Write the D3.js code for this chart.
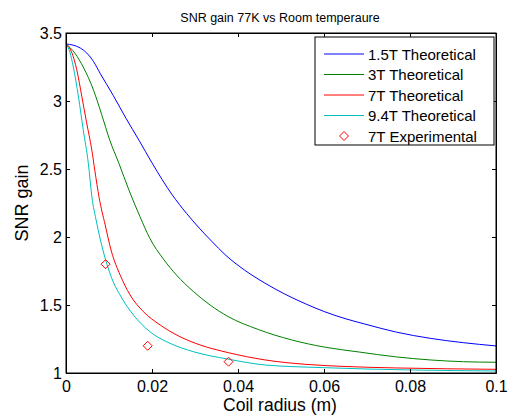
<!DOCTYPE html>
<html>
<head>
<meta charset="utf-8">
<script src="https://cdn.jsdelivr.net/npm/d3@7"></script>
<style>
  body { margin: 0; background: #fff; }
  text { font-family: Arial, "Liberation Sans", sans-serif; }
</style>
</head>
<body>
<script>
// values
var radius15 = [0, 0.0033, 0.0064, 0.008, 0.011, 0.014, 0.017, 0.020, 0.0247, 0.028, 0.031, 0.034, 0.037, 0.0416, 0.0463, 0.0509, 0.0556, 0.0602, 0.0649, 0.0695, 0.0769, 0.0847, 0.0924, 0.1]
var gain15 = [3.42, 3.39, 3.29, 3.20, 3.04, 2.87, 2.71, 2.545, 2.31, 2.175, 2.065, 1.965, 1.87, 1.755, 1.66, 1.58, 1.51, 1.45, 1.40, 1.36, 1.30, 1.255, 1.223, 1.199]

var radius3 = [0, 0.0021, 0.004, 0.0064, 0.0083, 0.0102, 0.0122, 0.0147, 0.0172, 0.0195, 0.0226, 0.0257, 0.0296, 0.0335, 0.0377, 0.0447, 0.0525, 0.0602, 0.068, 0.0769, 0.0847, 0.0924, 0.1]
var gain3 = [3.42, 3.35, 3.25, 3.08, 2.90, 2.71, 2.55, 2.34, 2.15, 1.99, 1.84, 1.72, 1.60, 1.50, 1.415, 1.32, 1.243, 1.19, 1.155, 1.118, 1.096, 1.083, 1.079]

var radius7 = [0, 0.0013, 0.0025, 0.0037, 0.0048, 0.006, 0.0067, 0.0077, 0.0091, 0.0106, 0.0126, 0.0149, 0.018, 0.0219, 0.0265, 0.0312, 0.0377, 0.0463, 0.0556, 0.0649, 0.0769, 0.0885, 0.1]
var gain7 = [3.42, 3.36, 3.23, 3.03, 2.84, 2.64, 2.49, 2.29, 2.09, 1.89, 1.72, 1.574, 1.451, 1.353, 1.267, 1.206, 1.15, 1.096, 1.064, 1.048, 1.037, 1.031, 1.027]

var radius94 = [0, 0.0009, 0.0017, 0.0029, 0.004, 0.0052, 0.006, 0.0071, 0.0087, 0.0106, 0.013, 0.0157, 0.0195, 0.0242, 0.0296, 0.0377, 0.0463, 0.0602, 0.0808, 0.1]
var gain94 = [3.42, 3.36, 3.25, 3.03, 2.79, 2.54, 2.30, 2.11, 1.89, 1.70, 1.55, 1.426, 1.304, 1.218, 1.157, 1.102, 1.059, 1.039, 1.022, 1.015]

var expRadius = [0.0092, 0.019, 0.0378]
var expGain = [1.80, 1.20, 1.083]

var seriesNames = ["1.5T Theoretical", "3T Theoretical", "7T Theoretical", "9.4T Theoretical"]
var seriesColors = ["#0000ff", "#008000", "#ff0000", "#00bfbf"]
var xTicks = [0, 0.02, 0.04, 0.06, 0.08, 0.1]
var yTicks = [1, 1.5, 2, 2.5, 3, 3.5]

var width = 508, height = 415
var axLeft = 66, axRight = 496, axTop = 33, axBottom = 373

var svg = d3.select("body").append("svg")
  .attr("width", width)
  .attr("height", height)

var x = d3.scaleLinear().domain([0, 0.1]).range([axLeft, axRight])
var y = d3.scaleLinear().domain([1, 3.5]).range([axBottom, axTop])

function zip(xs, ys) {
  return xs.map(function(v, i) { return [v, ys[i]] })
}
var series = [zip(radius15, gain15), zip(radius3, gain3), zip(radius7, gain7), zip(radius94, gain94)]

var line = d3.line()
  .x(function(d) { return x(d[0]) })
  .y(function(d) { return y(d[1]) })
  .curve(d3.curveMonotoneX)

var plot = svg.append("g")
plot.selectAll("path.curve")
  .data(series)
  .enter().append("path")
  .attr("class", "curve")
  .attr("d", line)
  .attr("fill", "none")
  .attr("stroke", function(d, i) { return seriesColors[i] })
  .attr("stroke-width", 1)

function diamond(r) {
  return "M0," + (-r) + "L" + r + ",0L0," + r + "L" + (-r) + ",0Z"
}

plot.selectAll("path.exp")
  .data(zip(expRadius, expGain))
  .enter().append("path")
  .attr("class", "exp")
  .attr("transform", function(d) { return "translate(" + x(d[0]) + "," + y(d[1]) + ")" })
  .attr("d", diamond(4.5))
  .attr("fill", "none")
  .attr("stroke", "#ff0000")
  .attr("stroke-width", 1)

// axes, ticks pointing inward like matlab
var fmt = function(d) { return d3.format("~g")(d) }
svg.append("g").attr("transform", "translate(0," + axBottom + ")")
  .call(d3.axisBottom(x).tickValues(xTicks).tickFormat(fmt).tickSize(-4).tickSizeOuter(0).tickPadding(8))
svg.append("g").attr("transform", "translate(0," + axTop + ")")
  .call(d3.axisTop(x).tickValues(xTicks).tickFormat("").tickSize(-4).tickSizeOuter(0))
svg.append("g").attr("transform", "translate(" + axLeft + ",0)")
  .call(d3.axisLeft(y).tickValues(yTicks).tickFormat(fmt).tickSize(-4).tickSizeOuter(0).tickPadding(4))
svg.append("g").attr("transform", "translate(" + axRight + ",0)")
  .call(d3.axisRight(y).tickValues(yTicks).tickFormat("").tickSize(-4).tickSizeOuter(0))

svg.selectAll(".domain, .tick line").attr("stroke", "#000")
svg.selectAll(".tick text").attr("fill", "#000").style("font-size", "16px").style("font-family", "Arial, 'Liberation Sans', sans-serif")

svg.append("rect")
  .attr("x", axLeft).attr("y", axTop)
  .attr("width", axRight - axLeft).attr("height", axBottom - axTop)
  .attr("fill", "none").attr("stroke", "#000").attr("stroke-width", 1)

svg.append("text")
  .attr("x", 280).attr("y", 22)
  .attr("text-anchor", "middle")
  .style("font-size", "12.5px")
  .text("SNR gain 77K vs Room temperaure")

svg.append("text")
  .attr("x", 280).attr("y", 411)
  .attr("text-anchor", "middle")
  .style("font-size", "17.5px")
  .text("Coil radius (m)")

svg.append("text")
  .attr("transform", "translate(28,203) rotate(-90)")
  .attr("text-anchor", "middle")
  .style("font-size", "18px")
  .text("SNR gain")

// legend
var legend = svg.append("g")
legend.append("rect")
  .attr("x", 315).attr("y", 37)
  .attr("width", 179).attr("height", 108)
  .attr("fill", "#fff").attr("stroke", "#000").attr("stroke-width", 1)

var legendNames = seriesNames.concat(["7T Experimental"])
legendNames.forEach(function(name, i) {
  var cy = 54 + i * 20.5
  if (i < seriesNames.length) {
    legend.append("line")
      .attr("x1", 324).attr("x2", 364)
      .attr("y1", cy).attr("y2", cy)
      .attr("stroke", seriesColors[i]).attr("stroke-width", 1)
  } else {
    legend.append("path")
      .attr("transform", "translate(344," + cy + ")")
      .attr("d", diamond(4.5))
      .attr("fill", "none").attr("stroke", "#ff0000")
  }
  legend.append("text")
    .attr("x", 368).attr("y", cy + 5.5)
    .style("font-size", "15px")
    .text(name)
})
</script>
</body>
</html>
